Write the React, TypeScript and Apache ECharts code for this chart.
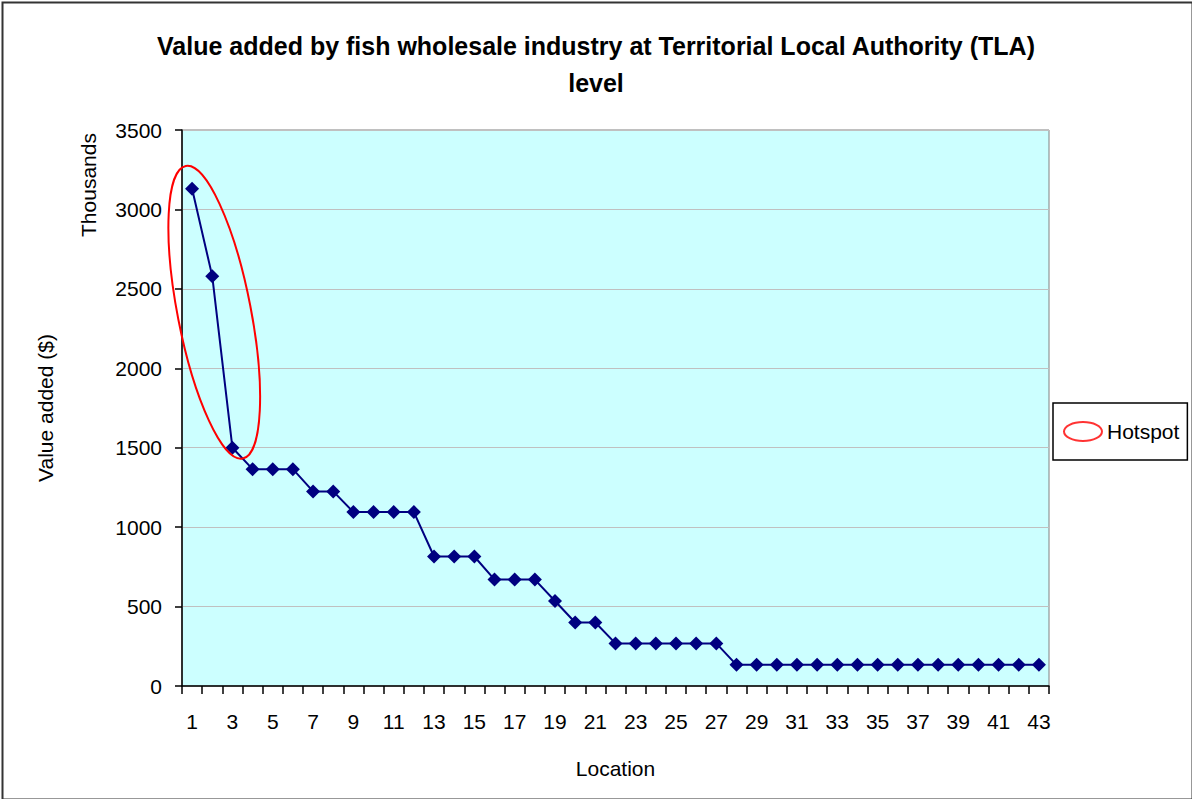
import React, { useEffect, useRef } from "react";
import * as echarts from "echarts";

const locations = [
  "1", "2", "3", "4", "5", "6", "7", "8", "9", "10", "11", "12", "13", "14", "15",
  "16", "17", "18", "19", "20", "21", "22", "23", "24", "25", "26", "27", "28", "29", "30",
  "31", "32", "33", "34", "35", "36", "37", "38", "39", "40", "41", "42", "43",
];

// Value added, thousands of $
const valueAdded = [
  3130, 2580, 1500, 1365, 1365, 1365, 1225, 1225, 1095, 1095, 1095, 1095, 815, 815, 815,
  670, 670, 670, 535, 400, 400, 268, 268, 268, 268, 268, 268, 133, 133, 133,
  133, 133, 133, 133, 133, 133, 133, 133, 133, 133, 133, 133, 133,
];

const yTicks = [0, 500, 1000, 1500, 2000, 2500, 3000, 3500];
const hotspotIdx = [0, 2];

const titleText = "Value added by fish wholesale industry at Territorial Local Authority (TLA)\nlevel";
const FONT = '"Liberation Sans Narrow", "Arial Narrow", "Liberation Sans", Arial, sans-serif';

export default function App() {
  const ref = useRef<HTMLDivElement>(null);
  useEffect(() => {
    document.body.style.margin = "0";
    const chart = echarts.init(ref.current!, null, { renderer: "svg" });
    chart.setOption({
      animation: false,
      backgroundColor: "#ffffff",
      textStyle: { fontFamily: FONT, color: "#000" },
      title: {
        text: titleText,
        left: "center",
        top: 27,
        padding: 0,
        textStyle: { fontFamily: FONT, fontSize: 25, fontWeight: "bold", color: "#000", lineHeight: 37 },
      },
      legend: {
        left: 1053,
        top: 403,
        orient: "vertical",
        borderColor: "#000",
        borderWidth: 1.5,
        borderRadius: 0,
        padding: [18, 8, 18, 10],
        itemWidth: 38,
        itemHeight: 20,
        itemGap: 0,
        textStyle: { fontFamily: FONT, fontSize: 21, color: "#000" },
        data: [
          {
            name: "Hotspot",
            icon: "path://M0,10 A20,10 0 1,0 40,10 A20,10 0 1,0 0,10 Z",
            itemStyle: { color: "transparent", borderColor: "#FF0000", borderWidth: 2 },
          },
        ],
      },
      grid: {
        left: 182,
        top: 130,
        width: 867,
        height: 556,
        show: true,
        backgroundColor: "#CCFFFF",
        borderColor: "#808080",
        borderWidth: 1,
      },
      xAxis: {
        type: "category",
        data: locations,
        boundaryGap: true,
        name: "Location",
        nameLocation: "middle",
        nameGap: 72,
        nameTextStyle: { fontFamily: FONT, fontSize: 21, color: "#000" },
        axisLine: { show: true, lineStyle: { color: "#000", width: 1.5 } },
        axisTick: { show: true, interval: 0, length: 8, alignWithLabel: false, lineStyle: { color: "#000", width: 1.5 } },
        axisLabel: { interval: 1, margin: 25, fontFamily: FONT, fontSize: 21, color: "#000" },
        splitLine: { show: false },
      },
      yAxis: {
        type: "value",
        min: yTicks[0],
        max: yTicks[yTicks.length - 1],
        interval: 500,
        name: "Value added ($)",
        nameLocation: "middle",
        nameRotate: 90,
        nameGap: 126,
        nameTextStyle: { fontFamily: FONT, fontSize: 21, color: "#000" },
        axisLine: { show: true, lineStyle: { color: "#000", width: 1.5 } },
        axisTick: { show: true, length: 7, lineStyle: { color: "#000", width: 1.5 } },
        axisLabel: { margin: 20, fontFamily: FONT, fontSize: 21, color: "#000", formatter: (v: number) => String(v) },
        splitLine: { show: true, lineStyle: { color: "#C0C0C0", width: 1 } },
      },
      series: [
        {
          name: "Value added",
          type: "line",
          data: valueAdded,
          symbol: "diamond",
          symbolSize: 14,
          showAllSymbol: true,
          lineStyle: { color: "#000080", width: 2 },
          itemStyle: { color: "#000080" },
        },
        {
          name: "Hotspot",
          type: "scatter",
          data: [],
          itemStyle: { color: "transparent", borderColor: "#FF0000", borderWidth: 2 },
        },
      ],
    });

    const p1 = chart.convertToPixel({ gridIndex: 0 }, [hotspotIdx[0], valueAdded[hotspotIdx[0]]]) as number[];
    const p3 = chart.convertToPixel({ gridIndex: 0 }, [hotspotIdx[1], valueAdded[hotspotIdx[1]]]) as number[];
    const cx = (p1[0] + p3[0]) / 2 + 2;
    const cy = (p1[1] + p3[1]) / 2 - 6;

    chart.setOption({
      graphic: [
        {
          id: "border",
          type: "rect",
          left: 0,
          top: 0,
          shape: { x: 1, y: 1, width: 1190, height: 797 },
          style: { fill: "none", stroke: "#333", lineWidth: 2 },
          silent: true,
        },
        {
          id: "thousands",
          type: "text",
          x: 88,
          y: 185,
          rotation: Math.PI / 2,
          style: {
            text: "Thousands",
            fontFamily: FONT,
            fontSize: 21,
            fill: "#000",
            align: "center",
            verticalAlign: "middle",
          },
        },
        {
          id: "hotspot-ellipse",
          type: "ellipse",
          x: cx,
          y: cy,
          rotation: 0.192,
          shape: { cx: 0, cy: 0, rx: 36.6, ry: 149 },
          style: { fill: "none", stroke: "#FF0000", lineWidth: 2 },
          z: 10,
        },
      ],
    });

    return () => chart.dispose();
  }, []);
  return <div ref={ref} style={{ width: 1192, height: 799 }} />;
}
